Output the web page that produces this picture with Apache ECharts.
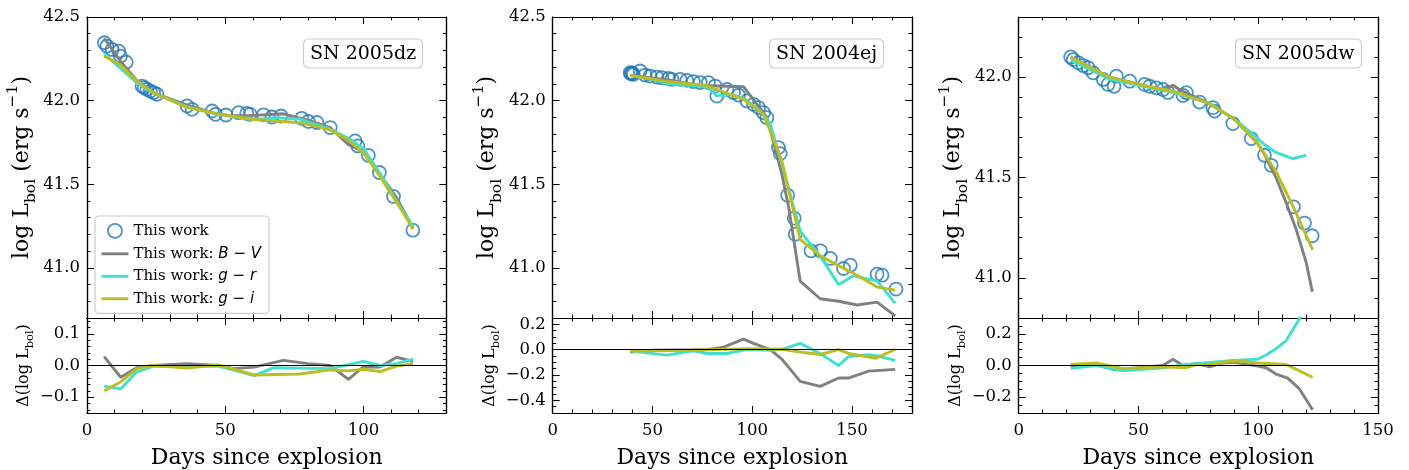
<!DOCTYPE html>
<html><head><meta charset="utf-8">
<script src="https://cdn.jsdelivr.net/npm/echarts@6/dist/echarts.min.js"></script>
<style>html,body{margin:0;padding:0;background:#fff}#c{width:1409px;height:470px}</style>
</head><body><div id="c"></div>
<script>
// ---------------- DATA ----------------
// SN 2005dz
const dz_obs = [[6.3,42.346],[7.2,42.326],[9.1,42.306],[11.5,42.296],[12.1,42.266],[14.2,42.23],[19.9,42.087],[20.7,42.078],[21.7,42.068],[22.9,42.057],[24.1,42.048],[25.3,42.038],[36.2,41.968],[38.0,41.948],[45.3,41.938],[46.5,41.918],[50.3,41.914],[54.8,41.928],[57.8,41.924],[59.0,41.918],[63.9,41.915],[66.9,41.902],[70.2,41.908],[77.7,41.894],[80.1,41.875],[83.2,41.869],[88.0,41.839],[97.0,41.759],[98.0,41.729],[101.8,41.673],[105.8,41.570],[110.9,41.427],[117.9,41.225]];
const dz_BV = [[6.2,42.374],[12.2,42.235],[18,42.12],[24.3,42.045],[36.1,41.974],[47.5,41.918],[53,41.91],[60.5,41.912],[71,41.921],[80,41.883],[88,41.839],[94.6,41.736],[100,41.696],[106,41.56],[112,41.42],[118,41.238]];
const dz_gr = [[6.2,42.281],[12.2,42.191],[18,42.107],[24.3,42.043],[36.1,41.964],[47.5,41.916],[60.5,41.885],[67.5,41.898],[77,41.89],[88,41.829],[94.6,41.775],[100,41.713],[106,41.565],[112,41.40],[118,41.245]];
const dz_gi = [[6.2,42.266],[12.2,42.213],[18,42.117],[24.3,42.045],[36.1,41.96],[47.5,41.92],[60.5,41.887],[77,41.868],[88,41.825],[94.6,41.763],[100,41.688],[106,41.546],[112,41.393],[118,41.231]];
const dz_dBV = [[6.2,0.028],[12.2,-0.037],[18,-0.007],[24.3,0],[36.1,0.006],[47.5,0],[53,-0.01],[60.5,-0.005],[71,0.016],[80,0.006],[88,0],[94.6,-0.044],[100,-0.004],[106,-0.005],[112,0.026],[118,0.013]];
const dz_dgr = [[6.2,-0.065],[12.2,-0.074],[18,-0.02],[24.3,-0.002],[36.1,-0.004],[47.5,-0.002],[60.5,-0.032],[67.5,-0.007],[88,-0.01],[100,0.013],[106,0],[112,0.006],[118,0.02]];
const dz_dgi = [[6.2,-0.08],[12.2,-0.052],[18,-0.01],[24.3,0],[36.1,-0.008],[47.5,0.002],[60.5,-0.03],[77,-0.027],[88,-0.014],[94.6,-0.017],[100,-0.012],[106,-0.019],[112,-0.002],[118,0.006]];

// SN 2004ej
const ej_obs = [[38.8,42.167],[39.3,42.16],[39.8,42.165],[40.4,42.157],[43.8,42.177],[46.3,42.153],[48.8,42.147],[52.2,42.141],[54.7,42.137],[58.0,42.133],[59.7,42.127],[63.8,42.127],[67.2,42.121],[70.5,42.114],[73.9,42.108],[78.0,42.108],[81.4,42.087],[82.2,42.027],[87.3,42.067],[90.6,42.048],[93.1,42.033],[97.3,41.998],[100.6,41.978],[103.1,41.958],[105.6,41.928],[107.3,41.898],[113.1,41.719],[114.0,41.683],[117.7,41.434],[121.0,41.297],[121.5,41.201],[129.4,41.102],[134.1,41.102],[139.1,41.056],[145.7,40.996],[149.1,41.016],[162.5,40.962],[165.0,40.956],[172.0,40.873]];
const ej_BV = [[38.8,42.15],[57.2,42.125],[73.9,42.09],[95.6,42.083],[107.3,41.90],[114.8,41.56],[118.4,41.35],[124,40.92],[134,40.815],[143.2,40.80],[152.5,40.778],[162.5,40.795],[171.6,40.713]];
const ej_gr = [[38.8,42.152],[50,42.125],[58,42.10],[70.6,42.09],[78,42.078],[82,42.03],[90.6,42.035],[97,42.005],[104.8,41.93],[109,41.86],[114.8,41.62],[124,41.22],[134,41.07],[143.2,40.90],[150.8,40.952],[162.5,40.922],[171.6,40.787]];
const ej_gi = [[38.8,42.15],[57.2,42.115],[77,42.09],[95.6,42.008],[105.6,41.918],[114.8,41.64],[124,41.17],[134,41.072],[143.2,41.012],[152.5,40.956],[162.5,40.885],[171.6,40.867]];
const ej_dBV = [[38.8,-0.018],[50.5,-0.005],[70.6,0],[78,0.002],[85.6,0.02],[95.6,0.083],[100.6,0.05],[109,0],[114.8,-0.075],[124,-0.25],[134,-0.29],[143.2,-0.224],[148.2,-0.224],[158.2,-0.169],[171.6,-0.156]];
const ej_dgr = [[38.8,-0.01],[47,-0.025],[57.2,-0.043],[70.6,-0.01],[77.3,-0.03],[87.3,-0.03],[97,0],[109,-0.005],[114.8,0.003],[124,0.05],[134,-0.03],[143.2,-0.126],[148.2,-0.055],[158.2,-0.04],[163,-0.05],[171.6,-0.085]];
const ej_dgi = [[38.8,-0.01],[70.6,-0.005],[97,0.008],[114.8,0.003],[124,-0.018],[134,-0.038],[143.2,0],[148.2,-0.03],[162,-0.068],[171.6,0.003]];

// SN 2005dw
const dw_obs = [[21.7,42.101],[22.8,42.088],[24.8,42.072],[26.9,42.058],[29.0,42.047],[31.1,42.022],[35.3,41.989],[37.3,41.964],[39.8,41.955],[40.8,42.005],[46.4,41.980],[52.6,41.964],[54.7,41.955],[57.5,41.947],[60.3,41.939],[62.3,41.924],[68.6,41.909],[70.0,41.923],[75.5,41.876],[81.1,41.848],[81.8,41.831],[89.4,41.769],[97.1,41.694],[102.6,41.611],[105.4,41.561],[114.7,41.354],[119.3,41.273],[122.5,41.21]];
const dw_BV = [[21.7,42.10],[38,42.0],[50,41.965],[60.2,41.935],[64.4,41.96],[67.5,41.935],[79.7,41.868],[90.1,41.79],[99.8,41.67],[102.6,41.616],[107.4,41.50],[111.6,41.376],[115.8,41.243],[120,41.078],[122.6,40.93]];
const dw_gr = [[21.7,42.085],[38,41.99],[50,41.96],[64.4,41.925],[79.7,41.87],[90.1,41.79],[96.4,41.73],[102,41.67],[107.4,41.625],[114.4,41.594],[120,41.611]];
const dw_gi = [[21.7,42.10],[38,42.0],[50,41.965],[64.4,41.93],[79.7,41.868],[90.1,41.79],[99.8,41.67],[107.4,41.53],[114.4,41.36],[122.7,41.14]];
const dw_dBV = [[21.7,-0.004],[30.4,0.012],[40.1,-0.028],[60.2,0],[64.4,0.04],[68.6,0],[74.4,0.012],[79.7,-0.008],[85.3,0.016],[90.1,0.02],[99.8,-0.004],[103.3,-0.014],[107.4,-0.054],[112.3,-0.08],[117.2,-0.148],[122.7,-0.28]];
const dw_dgr = [[21.7,-0.018],[32.5,0],[43.6,-0.034],[60.2,-0.014],[69.9,0.006],[79.7,0.02],[89.4,0.032],[99.8,0.04],[103.3,0.066],[107.4,0.106],[111.6,0.156],[117.2,0.296],[120,0.36]];
const dw_dgi = [[21.7,0.006],[32.5,0.016],[43.6,-0.02],[60.2,-0.008],[69.9,-0.014],[74.4,0.006],[79.7,0.006],[89.4,0.03],[99.8,0.016],[111.6,0.006],[117.2,-0.034],[122.7,-0.074]];

// tick labels / axis ranges
const sn_names = ['SN 2005dz','SN 2004ej','SN 2005dw'];
const x_max = [130, 180, 150];
const x_major = [[0,50,100],[0,50,100,150],[0,50,100,150]];
const y_range = [[40.7,42.5],[40.7,42.5],[40.8,42.3]];
const y_major = [[41.0,41.5,42.0,42.5],[41.0,41.5,42.0,42.5],[41.0,41.5,42.0]];
const r_range = [[-0.15,0.15],[-0.5,0.25],[-0.3,0.3]];
const r_major = [[-0.1,0,0.1],[-0.4,-0.2,0,0.2],[-0.2,0,0.2]];
const series_names = ['This work','This work: B − V','This work: g − r','This work: g − i'];

// ---------------- LAYOUT / STYLE ----------------
const FONT = 'DejaVu Serif';
const C_OBS = '#1f77b4', C_BV = '#808080', C_GR = '#40e0d0', C_GI = '#bcbd22';
const LW = 2.9;
const lefts = [87, 552.7, 1018.7];
const W = 359.3, MAIN_TOP = 17, MAIN_H = 301, RES_TOP = 318, RES_H = 101;
const boxPos = [[303,38.5],[769,38.5],[1235,38.5]];

const panelData = [
  {obs:dz_obs, bv:dz_BV, gr:dz_gr, gi:dz_gi, dbv:dz_dBV, dgr:dz_dgr, dgi:dz_dgi},
  {obs:ej_obs, bv:ej_BV, gr:ej_gr, gi:ej_gi, dbv:ej_dBV, dgr:ej_dgr, dgi:ej_dgi},
  {obs:dw_obs, bv:dw_BV, gr:dw_gr, gi:dw_gi, dbv:dw_dBV, dgr:dw_dgr, dgi:dw_dgi}
];

function steps(min, max, step) {
  const out = [];
  const n0 = Math.ceil(min / step - 1e-9), n1 = Math.floor(max / step + 1e-9);
  for (let k = n0; k <= n1; k++) out.push(Math.round(k * step * 1000) / 1000);
  return out;
}
const fmt1 = v => (Math.abs(v) < 1e-9 ? 0 : v).toFixed(1).replace('-', '−');

const grids = [], xAxis = [], yAxis = [], series = [], titles = [];

function axis(list, gi, pos, min, max, vals, len, label) {
  const a = {
    type: 'value', gridIndex: gi, position: pos, min: min, max: max,
    axisLine: {show: true, onZero: false, lineStyle: {color: '#000', width: 1.2}},
    axisTick: {show: true, inside: true, length: len, customValues: vals, lineStyle: {color: '#000', width: 1}},
    axisLabel: {show: false},
    splitLine: {show: false}
  };
  if (label) Object.assign(a, label);
  list.push(a);
  return list.length - 1;
}

for (let p = 0; p < 3; p++) {
  const d = panelData[p];
  const gMain = grids.length;
  grids.push({left: lefts[p], top: MAIN_TOP, width: W, height: MAIN_H, containLabel: false});
  const gRes = grids.length;
  grids.push({left: lefts[p], top: RES_TOP, width: W, height: RES_H, containLabel: false});

  const xmaj = steps(0, x_max[p], 50), xmin = steps(0, x_max[p], 10).filter(v => xmaj.indexOf(v) < 0);
  const ymaj = y_major[p], ymin = steps(y_range[p][0], y_range[p][1], 0.1).filter(v => !ymaj.some(m => Math.abs(m - v) < 1e-6));
  const rmaj = r_major[p];
  const rstep = p === 0 ? 0.02 : 0.05;
  const rmin = steps(r_range[p][0], r_range[p][1], rstep).filter(v => !rmaj.some(m => Math.abs(m - v) < 1e-6));

  // main grid axes
  const xm = axis(xAxis, gMain, 'bottom', 0, x_max[p], xmaj, 7);
  axis(xAxis, gMain, 'bottom', 0, x_max[p], xmin, 3.5);
  axis(xAxis, gMain, 'top', 0, x_max[p], xmaj, 7);
  axis(xAxis, gMain, 'top', 0, x_max[p], xmin, 3.5);
  const ym = axis(yAxis, gMain, 'left', y_range[p][0], y_range[p][1], ymaj, 7, {
    axisLabel: {show: true, customValues: ymaj, formatter: fmt1, fontFamily: FONT, fontSize: 16.5, color: '#000', margin: 7},
    name: '{n|log L}{s|bol}{n| (erg s}{p|−1}{n|)}', nameLocation: 'middle', nameGap: 48,
    nameTextStyle: {fontFamily: FONT, fontSize: 22, color: '#000', rich: {
      n: {fontFamily: FONT, fontSize: 22, lineHeight: 34, verticalAlign: 'middle', color: '#000'},
      s: {fontFamily: FONT, fontSize: 15.5, lineHeight: 15, verticalAlign: 'bottom', color: '#000'},
      p: {fontFamily: FONT, fontSize: 15.5, lineHeight: 15, verticalAlign: 'top', color: '#000'}
    }}
  });
  axis(yAxis, gMain, 'left', y_range[p][0], y_range[p][1], ymin, 3.5);
  axis(yAxis, gMain, 'right', y_range[p][0], y_range[p][1], ymaj, 7);
  axis(yAxis, gMain, 'right', y_range[p][0], y_range[p][1], ymin, 3.5);

  // residual grid axes
  const xr = axis(xAxis, gRes, 'bottom', 0, x_max[p], xmaj, 7, {
    axisLabel: {show: true, customValues: x_major[p], formatter: v => String(Math.round(v)), fontFamily: FONT, fontSize: 16.5, color: '#000', margin: 9},
    name: 'Days since explosion', nameLocation: 'middle', nameGap: 34,
    nameTextStyle: {fontFamily: FONT, fontSize: 22, color: '#000'}
  });
  axis(xAxis, gRes, 'bottom', 0, x_max[p], xmin, 3.5);
  axis(xAxis, gRes, 'top', 0, x_max[p], xmaj, 7);
  axis(xAxis, gRes, 'top', 0, x_max[p], xmin, 3.5);
  const yr = axis(yAxis, gRes, 'left', r_range[p][0], r_range[p][1], rmaj, 7, {
    axisLabel: {show: true, customValues: rmaj, formatter: fmt1, fontFamily: FONT, fontSize: 16.5, color: '#000', margin: 7},
    name: '{n|Δ(log L}{s|bol}{n|)}', nameLocation: 'middle', nameGap: 50,
    nameTextStyle: {fontFamily: FONT, fontSize: 16, color: '#000', rich: {
      n: {fontFamily: FONT, fontSize: 16, lineHeight: 24, verticalAlign: 'middle', color: '#000'},
      s: {fontFamily: FONT, fontSize: 11.5, lineHeight: 11, verticalAlign: 'bottom', color: '#000'}
    }}
  });
  axis(yAxis, gRes, 'left', r_range[p][0], r_range[p][1], rmin, 3.5);
  axis(yAxis, gRes, 'right', r_range[p][0], r_range[p][1], rmaj, 7);
  axis(yAxis, gRes, 'right', r_range[p][0], r_range[p][1], rmin, 3.5);

  // main series
  series.push({name: series_names[0], type: 'scatter', xAxisIndex: xm, yAxisIndex: ym, data: d.obs,
    symbol: 'circle', symbolSize: 13,
    itemStyle: {color: 'rgba(0,0,0,0)', borderColor: C_OBS, borderWidth: 1.8}});
  const lines = [[d.bv, C_BV, 1], [d.gr, C_GR, 2], [d.gi, C_GI, 3]];
  lines.forEach(([arr, col, k]) => series.push({name: series_names[k], type: 'line', xAxisIndex: xm, yAxisIndex: ym,
    data: arr, symbol: 'none', clip: true, lineStyle: {color: col, width: LW}, itemStyle: {color: col}}));
  // residual series
  const rl = [[d.dbv, C_BV, 1], [d.dgr, C_GR, 2], [d.dgi, C_GI, 3]];
  rl.forEach(([arr, col, k], i) => {
    const s = {name: series_names[k], type: 'line', xAxisIndex: xr, yAxisIndex: yr,
      data: arr, symbol: 'none', clip: true, lineStyle: {color: col, width: LW}, itemStyle: {color: col}};
    if (i === 0) s.markLine = {silent: true, symbol: 'none', label: {show: false}, animation: false,
      lineStyle: {color: '#000', width: 1.2, type: 'solid'}, data: [{yAxis: 0}]};
    series.push(s);
  });

  titles.push({text: sn_names[p], left: boxPos[p][0], top: boxPos[p][1],
    textStyle: {fontFamily: FONT, fontSize: 19, fontWeight: 'normal', color: '#000'},
    padding: [6, 7, 5, 7], borderColor: '#cccccc', borderWidth: 1.2, borderRadius: 5, backgroundColor: 'rgba(255,255,255,0.8)'});
}

const hideSym = {color: 'rgba(0,0,0,0)', borderWidth: 0, opacity: 0};
const chart = echarts.init(document.getElementById('c'), null, {renderer: 'canvas'});
chart.setOption({
  animation: false,
  backgroundColor: '#fff',
  title: titles,
  grid: grids,
  xAxis: xAxis,
  yAxis: yAxis,
  legend: {
    orient: 'vertical', left: 95, top: 216, selectedMode: false,
    padding: [7, 8, 7, 5], itemGap: 7.5, itemWidth: 27, itemHeight: 14,
    borderColor: '#cccccc', borderWidth: 1.2, borderRadius: 4, backgroundColor: 'rgba(255,255,255,0.8)',
    data: [
      {name: series_names[0], icon: 'circle', itemStyle: {color: 'rgba(0,0,0,0)', borderColor: C_OBS, borderWidth: 1.8}},
      {name: series_names[1], itemStyle: hideSym, lineStyle: {color: C_BV, width: LW}},
      {name: series_names[2], itemStyle: hideSym, lineStyle: {color: C_GR, width: LW}},
      {name: series_names[3], itemStyle: hideSym, lineStyle: {color: C_GI, width: LW}}
    ],
    formatter: function (n) {
      if (n === series_names[1]) return 'This work: {i|B}{m| − }{i|V}';
      if (n === series_names[2]) return 'This work: {i|g}{m| − }{i|r}';
      if (n === series_names[3]) return 'This work: {i|g}{m| − }{i|i}';
      return n;
    },
    textStyle: {fontFamily: FONT, fontSize: 15, color: '#000', lineHeight: 15, rich: {
      i: {fontFamily: 'DejaVu Sans', fontStyle: 'italic', fontSize: 15, color: '#000'},
      m: {fontFamily: 'DejaVu Sans', fontSize: 15, color: '#000'}
    }}
  },
  series: series
});
</script></body></html>
